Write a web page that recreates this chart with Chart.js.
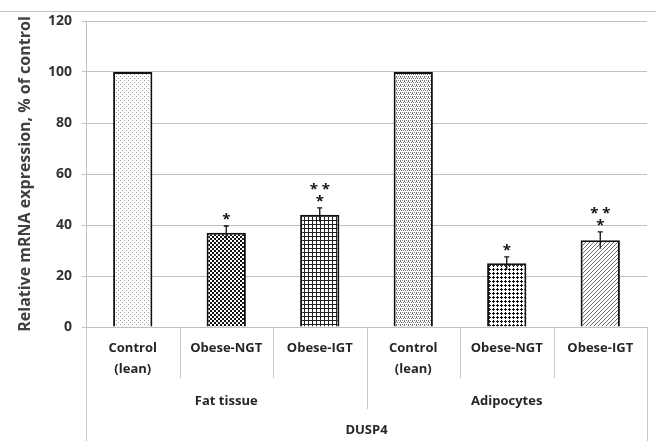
<!DOCTYPE html>
<html>
<head>
<meta charset="utf-8">
<script src="https://cdn.jsdelivr.net/npm/chart.js@4/dist/chart.umd.min.js"></script>
<style>
  html, body { margin: 0; padding: 0; background: #fff; }
  #wrap { width: 656px; height: 441px; position: relative; }
</style>
</head>
<body>
<div id="wrap"><canvas id="c" width="656" height="441"></canvas></div>
<script>
// ---- data ----
const categories = [['Control', '(lean)'], 'Obese-NGT', 'Obese-IGT', ['Control', '(lean)'], 'Obese-NGT', 'Obese-IGT'];
const groups = ['Fat tissue', 'Adipocytes'];
const groupSizes = [3, 3];
const geneLabel = 'DUSP4';
const values = [100, 37, 44, 100, 25, 34];
const errors = [0, 2.6, 2.7, 0, 2.5, 3.3];
const significance = [[], ['*'], ['* *', '*'], [], ['*'], ['* *', '*']];
const yTicks = [0, 20, 40, 60, 80, 100, 120];
const yTitle = 'Relative mRNA expression, % of control';

// ---- patterns ----
function makePattern(size, bg, fg, pixels) {
  const c = document.createElement('canvas');
  c.width = size; c.height = size;
  const g = c.getContext('2d');
  g.fillStyle = bg; g.fillRect(0, 0, size, size);
  g.fillStyle = fg;
  pixels.forEach(p => g.fillRect(p[0], p[1], p[2] || 1, p[3] || 1));
  return document.getElementById('c').getContext('2d').createPattern(c, 'repeat');
}
const patterns = [
  makePattern(4, '#ffffff', '#9a9a9a', [[0, 0], [2, 2]]),
  makePattern(4, '#ffffff', '#111111', [[0, 0, 2, 2], [2, 2, 2, 2]]),
  makePattern(4, '#ffffff', '#222222', [[0, 0, 4, 1], [0, 0, 1, 4]]),
  makePattern(4, '#ffffff', '#7a7a7a', [[0, 0], [2, 0], [1, 2], [3, 2], [0, 1]]),
  makePattern(4, '#ffffff', '#111111', [[0, 1, 3, 1], [1, 0, 1, 3]]),
  makePattern(4, '#ffffff', '#6a6a6a', [[3, 0], [2, 1], [1, 2], [0, 3]])
];

const FONT = "'Open Sans', 'Liberation Sans', sans-serif";

// ---- plugins ----
const decor = {
  id: 'decor',
  beforeDraw(chart) {
    const ctx = chart.ctx;
    ctx.save();
    ctx.fillStyle = '#ffffff';
    ctx.fillRect(0, 0, chart.width, chart.height);
    ctx.strokeStyle = '#c4c4c4';
    ctx.lineWidth = 1;
    ctx.beginPath();
    ctx.moveTo(0, 11.5); ctx.lineTo(chart.width, 11.5);
    ctx.stroke();
    ctx.restore();
  },
  afterDraw(chart) {
    const ctx = chart.ctx;
    const x = chart.scales.x;
    const area = chart.chartArea;
    const bottom = area.bottom;
    const H = chart.height;
    const n = categories.length;
    const edge = i => {
      if (i <= 0) return area.left;
      if (i >= n) return area.right;
      return (x.getPixelForValue(i - 1) + x.getPixelForValue(i)) / 2;
    };
    ctx.save();
    ctx.strokeStyle = '#c8c8c8';
    ctx.lineWidth = 1;
    const vline = (px, y2) => {
      const xx = Math.round(px) + 0.5;
      ctx.beginPath(); ctx.moveTo(xx, bottom); ctx.lineTo(xx, y2); ctx.stroke();
    };
    vline(area.left, H);
    vline(area.right, H);
    let start = 0;
    groupSizes.forEach((sz, gi) => {
      for (let k = 1; k < sz; k++) vline(edge(start + k), 378);
      start += sz;
      if (gi < groupSizes.length - 1) vline(edge(start), 409);
    });
    ctx.fillStyle = '#262626';
    ctx.font = 'bold 13px ' + FONT;
    ctx.textAlign = 'center';
    ctx.textBaseline = 'middle';
    start = 0;
    groupSizes.forEach((sz, gi) => {
      const cx = (edge(start) + edge(start + sz)) / 2;
      ctx.fillText(groups[gi], cx, 401);
      start += sz;
    });
    ctx.fillText(geneLabel, (area.left + area.right) / 2, 430);
    ctx.restore();
  },
  afterDatasetsDraw(chart) {
    const ctx = chart.ctx;
    const y = chart.scales.y;
    const meta = chart.getDatasetMeta(0);
    ctx.save();
    ctx.strokeStyle = '#111';
    ctx.lineWidth = 1.3;
    meta.data.forEach((bar, i) => {
      const e = errors[i];
      let top = y.getPixelForValue(values[i]);
      if (e > 0) {
        const yt = y.getPixelForValue(values[i] + e);
        const yb = y.getPixelForValue(values[i] - e);
        ctx.beginPath();
        ctx.moveTo(bar.x, yb); ctx.lineTo(bar.x, yt);
        ctx.moveTo(bar.x - 2.5, yt); ctx.lineTo(bar.x + 2.5, yt);
        ctx.stroke();
        top = yt;
      }
      const lines = significance[i];
      ctx.fillStyle = '#111';
      ctx.font = 'bold 15px ' + FONT;
      ctx.textAlign = 'center';
      ctx.textBaseline = 'alphabetic';
      for (let k = 0; k < lines.length; k++) {
        const line = lines[lines.length - 1 - k];
        ctx.fillText(line, bar.x, top - 2 - k * 12);
      }
    });
    ctx.restore();
  }
};

new Chart(document.getElementById('c'), {
  type: 'bar',
  data: {
    labels: categories,
    datasets: [{
      data: values,
      backgroundColor: patterns,
      borderColor: '#111111',
      borderWidth: 2,
      barPercentage: 0.42,
      categoryPercentage: 1.0
    }]
  },
  plugins: [decor],
  options: {
    responsive: false,
    animation: false,
    devicePixelRatio: 1,
    layout: { padding: { top: 21, right: 9, left: 0, bottom: 0 } },
    plugins: { legend: { display: false }, tooltip: { enabled: false } },
    scales: {
      x: {
        grid: { display: false, drawTicks: false },
        border: { display: false },
        ticks: {
          color: '#262626',
          font: { family: FONT, size: 13, weight: 'bold', lineHeight: '21px' },
          padding: 11,
          maxRotation: 0,
          autoSkip: false
        },
        afterFit(scale) { scale.height = 114; }
      },
      y: {
        min: 0,
        max: 120,
        afterBuildTicks(scale) { scale.ticks = yTicks.map(v => ({ value: v })); },
        grid: { color: '#c0c0c0', tickLength: 4, lineWidth: 1 },
        border: { color: '#c0c0c0' },
        ticks: {
          color: '#333333',
          font: { family: FONT, size: 14, weight: 'bold' },
          padding: 10
        },
        title: {
          display: true,
          text: yTitle,
          color: '#404040',
          font: { family: FONT, size: 16, weight: 'bold' },
          padding: { top: 16, bottom: 0 }
        },
        afterFit(scale) { scale.width = 86; }
      }
    }
  }
});
</script>
</body>
</html>
